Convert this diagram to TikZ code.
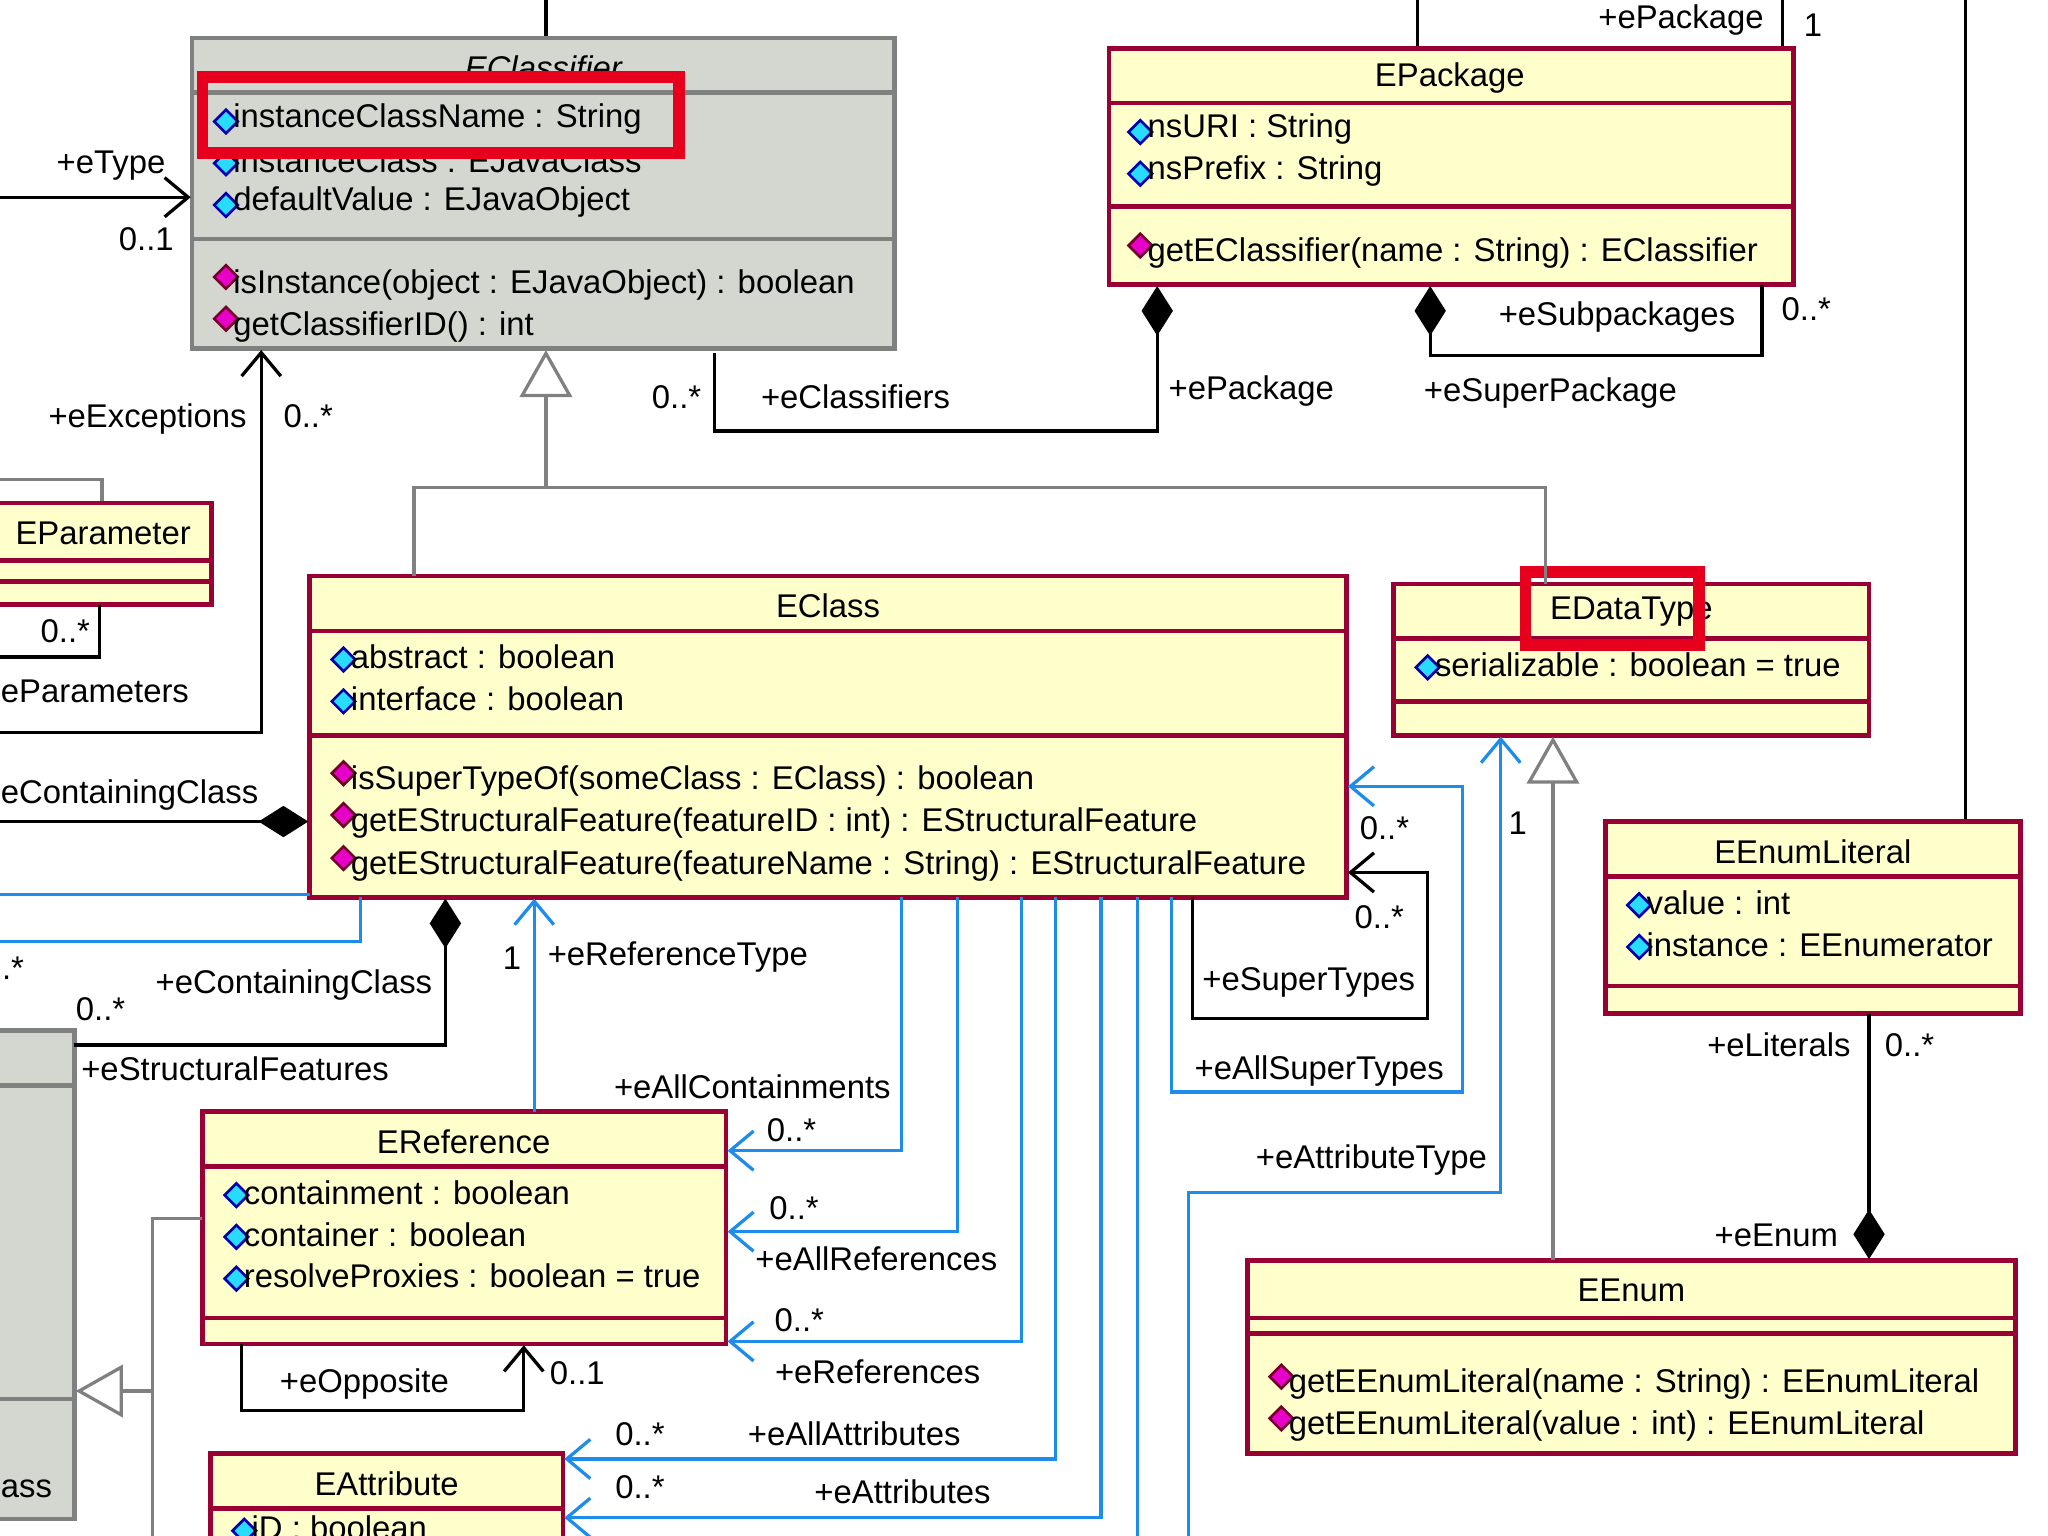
\documentclass[tikz,border=0pt]{standalone}
\usepackage{fontspec}
\setmainfont{Liberation Sans}
\usetikzlibrary{arrows.meta}
\definecolor{umlRed}{RGB}{153,0,51}
\definecolor{umlYel}{RGB}{255,255,204}
\definecolor{umlGray}{RGB}{212,214,208}
\definecolor{umlBlue}{RGB}{30,140,235}
\definecolor{hiRed}{RGB}{230,0,30}
\definecolor{attrCyan}{RGB}{40,220,255}
\definecolor{opMag}{RGB}{230,0,200}

% attribute and operation rows
\newcommand{\attrRow}[3]{%
  \fill[attrCyan, draw=blue!70!black, line width=0.2mm] (#1-2,#2+2) -- ++(9,-9) -- ++(9,9) -- ++(-9,9) -- cycle;
  \node[anchor=west, inner sep=0pt] at (#1+12,#2) {#3};}
\newcommand{\opRow}[3]{%
  \fill[opMag, draw=purple!60!black, line width=0.2mm] (#1-2,#2-6) -- ++(9,-9) -- ++(9,9) -- ++(-9,9) -- cycle;
  \node[anchor=west, inner sep=0pt] at (#1+12,#2) {#3};}

\begin{document}
\begin{tikzpicture}[x=0.01cm, y=-0.01cm,
  font=\fontsize{7.15}{9}\selectfont,
  box/.style={draw=umlRed, fill=umlYel, line width=0.35mm},
  graybox/.style={draw=gray, fill=umlGray, line width=0.35mm},
  link/.style={line width=0.25mm, black},
  blink/.style={line width=0.25mm, umlBlue},
  glink/.style={line width=0.25mm, gray},
  nav/.style={-{Straight Barb[length=1.8mm, width=3mm]}},
  gen/.style={-{Triangle[open, length=3.6mm, width=4mm, fill=white]}},
  comp/.style={{Diamond[length=3.8mm, width=2.4mm]}-},
  lbl/.style={inner sep=0pt}]

  \useasboundingbox (0,0) rectangle (1568,1176);

  % Lines leaving the top edge:
  \draw[link] (418,0) -- (418,29);
  \draw[link] (1085,0) -- (1085,37);
  \draw[link] (1365,0) -- (1365,37);
  \draw[link] (1505,0) -- (1505,629);
  \node[lbl] at (1287,15) {+ePackage};
  \node[lbl] at (1388,19) {1};

  % EClassifier
  \draw[graybox] (147,29) rectangle (685,267);
  \draw[gray, line width=0.35mm] (147,71) -- (685,71) (147,183) -- (685,183);
  \node[lbl, font=\fontsize{7.15}{9}\selectfont\itshape] (eclassifier) at (416,52) {EClassifier};
  \attrRow{166}{91}{instanceClassName : String}
  \attrRow{166}{123}{instanceClass : EJavaClass}
  \attrRow{166}{155}{defaultValue : EJavaObject}
  \opRow{166}{218}{isInstance(object : EJavaObject) : boolean}
  \opRow{166}{250}{getClassifierID() : int}
  \draw[hiRed, line width=0.9mm] (155,59) rectangle (520,117);

  % EPackage
  \draw[box] (849,37) rectangle (1373,218);
  \draw[umlRed, line width=0.35mm] (849,79) -- (1373,79) (849,158) -- (1373,158);
  \node[lbl] (epackage) at (1110,60) {EPackage};
  \attrRow{866}{99}{nsURI : String}
  \attrRow{866}{131}{nsPrefix : String}
  \opRow{866}{194}{getEClassifier(name : String) : EClassifier}

  % EParameter (clipped)
  \draw[link, gray] (0,367) -- (78,367) -- (78,385);
  \draw[box] (-5,385) rectangle (162,463);
  \draw[umlRed, line width=0.35mm] (-5,429) -- (162,429) (-5,445) -- (162,445);
  \node[lbl] (eparameter) at (79,408) {EParameter};

  % EClass
  \draw[box] (237,441) rectangle (1031,687);
  \draw[umlRed, line width=0.35mm] (237,483) -- (1031,483) (237,563) -- (1031,563);
  \node[lbl] (eclass) at (634,464) {EClass};
  \attrRow{256}{503}{abstract : boolean}
  \attrRow{256}{535}{interface : boolean}
  \opRow{256}{598}{isSuperTypeOf(someClass : EClass) : boolean}
  \opRow{256}{630}{getEStructuralFeature(featureID : int) : EStructuralFeature}
  \opRow{256}{663}{getEStructuralFeature(featureName : String) : EStructuralFeature}

  % EDataType
  \draw[box] (1067,447) rectangle (1431,563);
  \draw[umlRed, line width=0.35mm] (1067,489) -- (1431,489) (1067,537) -- (1431,537);
  \node[lbl] (edatatype) at (1249,468) {EDataType};
  \attrRow{1086}{509}{serializable : boolean = true}
  \draw[hiRed, line width=0.9mm] (1168,438) rectangle (1301,494);

  % EEnumLiteral
  \draw[box] (1229,629) rectangle (1547,776);
  \draw[umlRed, line width=0.35mm] (1229,671) -- (1547,671) (1229,755) -- (1547,755);
  \node[lbl] (eenumliteral) at (1388,652) {EEnumLiteral};
  \attrRow{1248}{691}{value : int}
  \attrRow{1248}{723}{instance : EEnumerator}

  % EEnum
  \draw[box] (955,965) rectangle (1543,1113);
  \draw[umlRed, line width=0.35mm] (955,1009) -- (1543,1009) (955,1021) -- (1543,1021);
  \node[lbl] (eenum) at (1249,988) {EEnum};
  \opRow{974}{1060}{getEEnumLiteral(name : String) : EEnumLiteral}
  \opRow{974}{1092}{getEEnumLiteral(value : int) : EEnumLiteral}

  % EReference
  \draw[box] (155,851) rectangle (556,1029);
  \draw[umlRed, line width=0.35mm] (155,893) -- (556,893) (155,1009) -- (556,1009);
  \node[lbl] (ereference) at (355,874) {EReference};
  \attrRow{174}{913}{containment : boolean}
  \attrRow{174}{945}{container : boolean}
  \attrRow{174}{977}{resolveProxies : boolean = true}

  % EAttribute (clipped)
  \draw[box] (161,1113) rectangle (431,1190);
  \draw[umlRed, line width=0.35mm] (161,1155) -- (431,1155);
  \node[lbl] (eattribute) at (296,1136) {EAttribute};
  \attrRow{180}{1170}{iD : boolean}

  % Gray box at the left edge
  \draw[graybox] (-5,789) rectangle (57,1163);
  \draw[gray, line width=0.35mm] (-5,831) -- (57,831) (-5,1071) -- (57,1071);
  \node[lbl, anchor=west] at (0,1140) {ass};

  % Generalizations:
  \draw[glink] (317,441) -- (317,373) -- (1183,373) -- (1183,447);
  \draw[glink, gen] (418,373) -- (418,268);
  \draw[glink, gen] (1189,965) -- (1189,564);
  \draw[glink] (155,933) -- (117,933) -- (117,1176);
  \draw[glink, gen] (117,1065) -- (58,1065);

  % eType
  \draw[link, nav] (0,151) -- (146,151);
  \node[lbl] at (85,127) {+eType};
  \node[lbl] at (112,183) {0..1};

  % eClassifiers / ePackage
  \draw[link, comp] (886,219) -- (886,330) -- (547,330) -- (547,270);
  \node[lbl] at (518,304) {0..*};
  \node[lbl] at (655,304) {+eClassifiers};
  \node[lbl] at (958,299) {+ePackage};

  % eSubpackages
  \draw[link, comp] (1095,219) -- (1095,272) -- (1349,272) -- (1349,218);
  \node[lbl] at (1238,243) {+eSubpackages};
  \node[lbl] at (1383,237) {0..*};
  \node[lbl] at (1187,301) {+eSuperPackage};

  % eExceptions / eParameters
  \draw[link, nav] (0,561) -- (200,561) -- (200,268);
  \node[lbl] at (113,321) {+eExceptions};
  \node[lbl] at (236,319) {0..*};
  \draw[link] (76,463) -- (76,503) -- (0,503);
  \node[lbl] at (50,483) {0..*};
  \node[lbl, anchor=west] at (0,529) {eParameters};

  % eContainingClass (operations)
  \draw[link, comp] (236,629) -- (0,629);
  \node[lbl, anchor=west] at (0,609) {eContainingClass};
  \draw[blink] (0,685) -- (237,685);
  \draw[blink] (0,721) -- (276,721) -- (276,687);

  % eStructuralFeatures
  \draw[link, comp] (341,688) -- (341,800) -- (57,800);
  \node[lbl] at (10,741) {.*};
  \node[lbl] at (225,754) {+eContainingClass};
  \node[lbl] at (77,773) {0..*};
  \node[lbl] at (180,818) {+eStructuralFeatures};

  % eReferenceType
  \draw[blink, nav] (409,851) -- (409,688);
  \node[lbl] at (392,734) {1};
  \node[lbl] at (519,733) {+eReferenceType};

  % eOpposite
  \draw[link, nav] (185,1029) -- (185,1080) -- (401,1080) -- (401,1030);
  \node[lbl] at (279,1060) {+eOpposite};
  \node[lbl] at (442,1051) {0..1};

  % Derived and owned references of EClass
  \draw[blink, nav] (690,687) -- (690,881) -- (557,881);
  \node[lbl] at (576,832) {+eAllContainments};
  \node[lbl] at (606,865) {0..*};
  \draw[blink, nav] (733,687) -- (733,943) -- (557,943);
  \node[lbl] at (608,925) {0..*};
  \node[lbl] at (671,964) {+eAllReferences};
  \draw[blink, nav] (782,687) -- (782,1027) -- (557,1027);
  \node[lbl] at (612,1011) {0..*};
  \node[lbl] at (672,1050) {+eReferences};
  \draw[blink, nav] (808,687) -- (808,1117) -- (432,1117);
  \node[lbl] at (490,1098) {0..*};
  \node[lbl] at (654,1098) {+eAllAttributes};
  \draw[blink, nav] (843,687) -- (843,1162) -- (432,1162);
  \node[lbl] at (490,1139) {0..*};
  \node[lbl] at (691,1142) {+eAttributes};
  \draw[blink] (871,687) -- (871,1176);

  % eSuperTypes / eAllSuperTypes
  \draw[blink, nav] (897,687) -- (897,836) -- (1120,836) -- (1120,602) -- (1032,602);
  \node[lbl] at (1060,634) {0..*};
  \node[lbl] at (1010,820) {+eAllSuperTypes};
  \draw[link, nav] (913,687) -- (913,780) -- (1093,780) -- (1093,668) -- (1032,668);
  \node[lbl] at (1056,702) {0..*};
  \node[lbl] at (1002,752) {+eSuperTypes};

  % eAttributeType
  \draw[blink, nav] (910,1176) -- (910,913) -- (1149,913) -- (1149,564);
  \node[lbl] at (1050,888) {+eAttributeType};
  \node[lbl] at (1162,630) {1};

  % eLiterals / eEnum
  \draw[link, comp] (1431,964) -- (1431,776);
  \node[lbl] at (1362,800) {+eLiterals};
  \node[lbl] at (1462,800) {0..*};
  \node[lbl] at (1360,946) {+eEnum};

\end{tikzpicture}
\end{document}
